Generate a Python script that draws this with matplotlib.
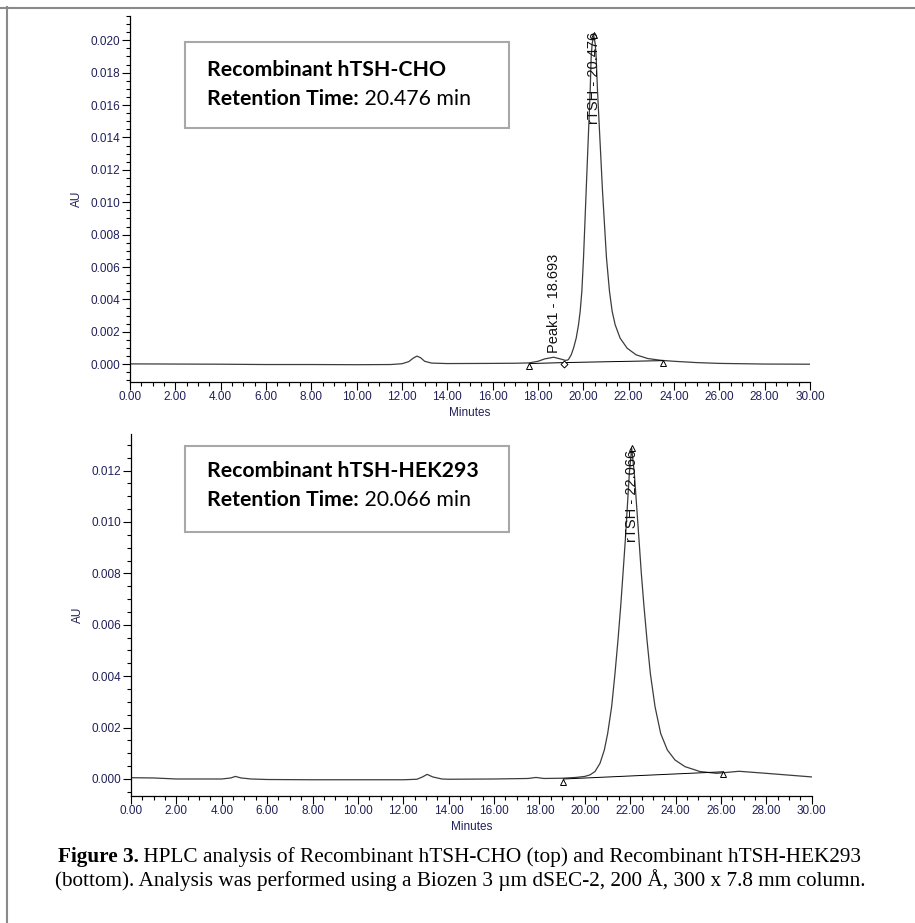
import matplotlib
matplotlib.use('Agg')
import matplotlib.pyplot as plt
from matplotlib.ticker import MultipleLocator, FormatStrFormatter
from matplotlib.patches import Rectangle
from matplotlib.lines import Line2D

# --- top trace: Recombinant hTSH-CHO (minutes, AU)
cho_t = [0.0, 2.0, 4.0, 6.0, 8.0, 10.0, 11.5, 12.0, 12.3, 12.5, 12.66, 12.82, 13.0,
         13.3, 14.0, 16.0, 17.0, 17.6, 18.0, 18.3, 18.69, 19.0, 19.2, 19.30,
         19.347, 19.465, 19.567, 19.685, 19.788, 19.861, 19.935, 20.008, 20.067, 20.125,
         20.184, 20.243, 20.302, 20.346, 20.390, 20.46, 20.522, 20.566, 20.625, 20.698,
         20.772, 20.845, 20.933, 21.021, 21.153, 21.271, 21.403, 21.623, 21.932, 22.328,
         22.842, 23.43, 24.0, 25.0, 26.0, 28.0, 30.0]
cho_au = [0.00002, 0.00001, 0.0, -0.00002, -0.00002, -0.00003, -0.00002, 0.00003, 0.00016,
          0.00038, 0.00050, 0.00040, 0.00018, 0.00007, 0.00004, 0.00005, 0.00006, 0.00008,
          0.00018, 0.00033, 0.00043, 0.00032, 0.00024, 0.00025,
          0.00030, 0.00058, 0.00099, 0.00161, 0.00244, 0.00327, 0.00451, 0.00657, 0.00864,
          0.01071, 0.01277, 0.01484, 0.01690, 0.01897, 0.01980, 0.0203, 0.01980, 0.01897,
          0.01690, 0.01484, 0.01277, 0.01071, 0.00864, 0.00657, 0.00451, 0.00327, 0.00244,
          0.00161, 0.00099, 0.00058, 0.00035, 0.00024, 0.00018, 0.00010, 0.00005, 0.00001,
          0.0]
cho_base_t = [17.62, 19.16, 23.52]
cho_base_au = [0.00004, 0.0001, 0.00022]
cho_tri_t = [17.62, 23.52]
cho_tri_au = [-0.0001, 0.00006]
cho_valley = (19.16, 0.0)
cho_peaks = [('Peak1 - 18.693', 18.693, 0.0007, 'bottom'),
             ('rTSH - 20.476', 20.476, 0.0205, 'top')]
cho_apex = (20.476, 0.0203)

# --- bottom trace: Recombinant hTSH-HEK293
hek_t = [0.0, 1.0, 2.0, 4.0, 4.4, 4.6, 4.85, 5.3, 6.0, 8.0, 10.0, 12.0, 12.6, 12.85,
         13.05, 13.3, 13.7, 14.0, 16.0, 17.5, 17.85, 18.2, 19.0, 19.6, 20.0, 20.229,
         20.450, 20.670, 20.861, 21.008, 21.184, 21.331, 21.463, 21.581, 21.684, 21.786,
         21.875, 21.963, 22.065, 22.183, 22.286, 22.389, 22.491, 22.609, 22.741, 22.888,
         23.094, 23.344, 23.637, 23.975, 24.416, 25.077, 25.812, 26.3, 26.8, 28.0, 30.0]
hek_au = [0.00005, 0.00004, 0.0, 0.0, 0.00004, 0.0001, 0.00004, 0.0, -0.00002, -0.00003,
          -0.00003, -0.00003, -0.00001, 0.00008, 0.00018, 0.00008, 0.0, -0.00001, 0.0,
          0.00002, 0.00006, 0.00002, 0.00003, 0.00006, 0.0001, 0.00016,
          0.00029, 0.00061, 0.00113, 0.00177, 0.00282, 0.00411, 0.00541, 0.00671, 0.00800,
          0.00930, 0.01060, 0.01189, 0.01287, 0.01189, 0.01060, 0.00930, 0.00800, 0.00671,
          0.00541, 0.00411, 0.00282, 0.00177, 0.00113, 0.00074, 0.00048, 0.00029, 0.00022,
          0.00026, 0.0003, 0.00022, 0.00008]
hek_base_t = [19.05, 26.1]
hek_base_au = [0.0, 0.00028]
hek_tri_t = [19.05, 26.1]
hek_tri_au = [-0.00012, 0.00018]
hek_peaks = [('rTSH - 22.066', 22.066, 0.0128, 'top')]
hek_apex = (22.066, 0.01287)

W, H = 915.0, 923.0
navy = '#20205a'
trace = '#3c3c3c'

fig = plt.figure(figsize=(W / 100, H / 100), dpi=100)


def px_axes(x0, y0, x1, y1):
    return fig.add_axes([x0 / W, 1 - y1 / H, (x1 - x0) / W, (y1 - y0) / H])


def style(ax, ylim):
    ax.set_xlim(0, 30)
    ax.set_ylim(*ylim)
    ax.spines['top'].set_visible(False)
    ax.spines['right'].set_visible(False)
    ax.spines['left'].set_linewidth(0.9)
    ax.spines['bottom'].set_linewidth(0.9)
    ax.xaxis.set_major_locator(MultipleLocator(2))
    ax.xaxis.set_minor_locator(MultipleLocator(0.5))
    ax.yaxis.set_major_locator(MultipleLocator(0.002))
    ax.yaxis.set_minor_locator(MultipleLocator(0.0005))
    ax.xaxis.set_major_formatter(FormatStrFormatter('%.2f'))
    ax.yaxis.set_major_formatter(FormatStrFormatter('%.3f'))
    ax.tick_params(which='major', length=5.8, width=0.8, pad=1, labelsize=8.5,
                   labelcolor=navy, labelfontfamily='Liberation Sans')
    ax.tick_params(which='minor', length=3.2, width=0.8)
    ax.set_xlabel('Minutes', fontsize=8.5, color=navy, family='Liberation Sans', labelpad=3)
    ax.set_ylabel('AU', fontsize=8.5, color=navy, family='Liberation Sans', labelpad=6)


def draw(ax, t, au, bt, bau, tt, tau, peaks, apex):
    ax.plot(t, au, color=trace, lw=0.9)
    ax.plot(bt, bau, color='black', lw=0.7)
    ax.plot(tt, tau, ls='none', marker='^', ms=4, mfc='white', mec='black', mew=0.7)
    ax.plot([apex[0]], [apex[1]], ls='none', marker='^', ms=4, mfc='none', mec='black', mew=0.7)
    for lab, x, y, va in peaks:
        ax.text(x, y, lab, rotation=90, ha='center', va=va, fontsize=10.5,
                family='Liberation Sans', color='#111111')


ax1 = px_axes(130, 16, 810, 381.7)
style(ax1, (-0.00108, 0.0215))
draw(ax1, cho_t, cho_au, cho_base_t, cho_base_au, cho_tri_t, cho_tri_au, cho_peaks, cho_apex)
ax1.plot([cho_valley[0]], [cho_valley[1]], ls='none', marker='D', ms=3.5, mfc='white',
         mec='black', mew=0.7)

ax2 = px_axes(131, 434.3, 811.7, 795.7)
style(ax2, (-0.00065, 0.01341))
draw(ax2, hek_t, hek_au, hek_base_t, hek_base_au, hek_tri_t, hek_tri_au, hek_peaks, hek_apex)

# info boxes
fs_box = 15.3
boxes = [((185, 42, 509, 128), 70, 99, 'Recombinant hTSH-CHO', '20.476'),
         ((185, 446, 509, 532), 471, 500, 'Recombinant hTSH-HEK293', '20.066')]
for (x0, y0, x1, y1), l1, l2, name, rt in boxes:
    fig.add_artist(Rectangle((x0 / W, 1 - y1 / H), (x1 - x0) / W, (y1 - y0) / H,
                             transform=fig.transFigure, fill=False, ec='#a8a8a8', lw=1.5))
    fig.text(207 / W, 1 - l1 / H, name, fontsize=fs_box, weight='bold', family='Lato',
             va='center', ha='left')
    tb = fig.text(207 / W, 1 - l2 / H, 'Retention Time:', fontsize=fs_box, weight='bold',
                  family='Lato', va='center', ha='left')
    fig.add_artist(plt.Annotation(' ' + rt + ' min', xy=(1, 0.5), xycoords=tb,
                                  fontsize=fs_box, family='Lato', va='center', ha='left'))

# caption
fs_cap = 15.3
cap1b = fig.text(0, 1 - 862 / H, 'Figure 3.', fontsize=fs_cap, weight='bold',
                 family='Liberation Serif', va='baseline')
cap1r = fig.text(0, 1 - 862 / H,
                 ' HPLC analysis of Recombinant hTSH-CHO (top) and Recombinant hTSH-HEK293',
                 fontsize=fs_cap, family='Liberation Serif', va='baseline')
fig.text(460 / W, 1 - 886 / H,
         '(bottom). Analysis was performed using a Biozen 3 \u00b5m dSEC-2, 200 \u00c5, 300 x 7.8 mm column.',
         fontsize=fs_cap, family='Liberation Serif', va='baseline', ha='center')
r = fig.canvas.get_renderer()
w1 = cap1b.get_window_extent(r).width
w2 = cap1r.get_window_extent(r).width
x0 = 459.5 - (w1 + w2) / 2
cap1b.set_x(x0 / W)
cap1r.set_x((x0 + w1) / W)

# page frame lines
fig.add_artist(Line2D([0, 1], [1 - 7.5 / H] * 2, color='#8a8a8a', lw=1.5))
fig.add_artist(Line2D([7 / W] * 2, [0, 1 - 6.8 / H], color='#8a8a8a', lw=1.5))

fig.savefig('out.png', dpi=100)
